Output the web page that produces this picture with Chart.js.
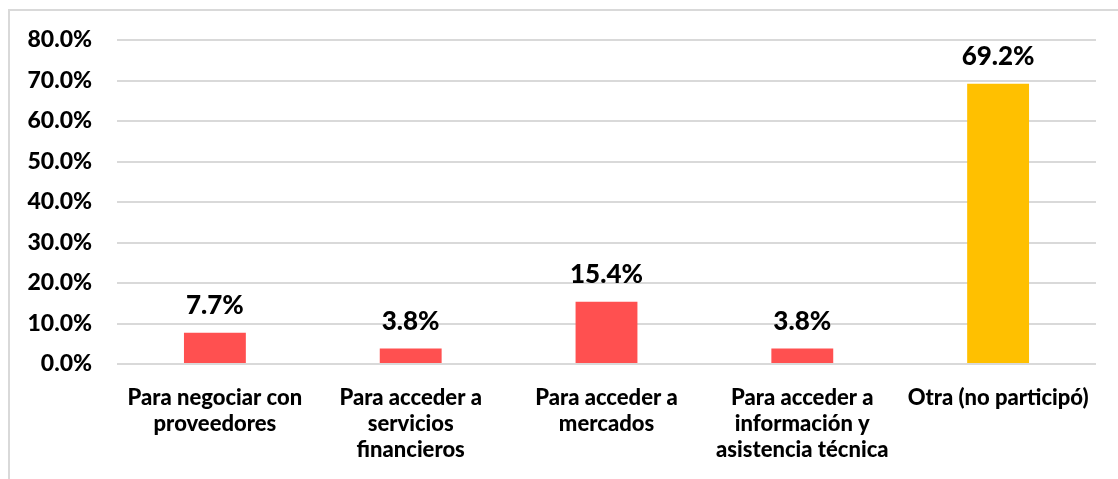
<!DOCTYPE html>
<html>
<head>
<meta charset="utf-8">
<script src="https://cdn.jsdelivr.net/npm/chart.js@4"></script>
<style>
  html, body { margin:0; padding:0; background:#fff; overflow:hidden; }
  #wrap { position:absolute; left:0; top:0; width:1118px; height:479px; }
  #frame { position:absolute; left:8px; top:9px; width:1200px; height:600px; border-left:2px solid #D9D9D9; border-top:2px solid #D9D9D9; }
  canvas { position:absolute; left:0; top:0; }
</style>
</head>
<body>
<div id="wrap">
  <div id="frame"></div>
  <canvas id="c" width="1118" height="479"></canvas>
</div>
<script>
const categories = [
  ["Para negociar con", "proveedores"],
  ["Para acceder a", "servicios", "financieros"],
  ["Para acceder a", "mercados"],
  ["Para acceder a", "información y", "asistencia técnica"],
  ["Otra (no participó)"]
];
const values = [7.7, 3.8, 15.4, 3.8, 69.2];
const barColors = ["#FF5050", "#FF5050", "#FF5050", "#FF5050", "#FFC000"];
const yTicks = [0, 10, 20, 30, 40, 50, 60, 70, 80];

const FONT = "Lato, 'Open Sans', sans-serif";

const valueLabels = {
  id: 'valueLabels',
  afterDatasetsDraw(chart) {
    const ctx = chart.ctx;
    const meta = chart.getDatasetMeta(0);
    ctx.save();
    ctx.font = "900 26px " + FONT;
    ctx.fillStyle = "#000";
    ctx.textAlign = "center";
    ctx.textBaseline = "alphabetic";
    meta.data.forEach((bar, i) => {
      ctx.fillText(values[i].toFixed(1) + "%", bar.x, bar.y - 19);
    });
    ctx.restore();
  }
};

new Chart(document.getElementById('c'), {
  type: 'bar',
  data: {
    labels: categories,
    datasets: [{
      data: values,
      backgroundColor: barColors,
      borderWidth: 0,
      barPercentage: 0.316,
      categoryPercentage: 1.0
    }]
  },
  options: {
    responsive: false,
    animation: false,
    devicePixelRatio: 1,
    layout: { padding: { left: 0, top: 40, right: 22, bottom: 0 } },
    plugins: { legend: { display: false }, tooltip: { enabled: false } },
    scales: {
      x: {
        grid: { display: false, drawTicks: false },
        border: { display: false },
        ticks: {
          color: "#000",
          font: { family: FONT, size: 22, weight: 900, lineHeight: 1.18 },
          padding: 21,
          maxRotation: 0,
          autoSkip: false
        },
        afterFit(scale) { scale.height = 115; }
      },
      y: {
        min: 0, max: 80,
        afterBuildTicks(scale) { scale.ticks = yTicks.map(v => ({ value: v })); },
        grid: { color: "#D9D9D9", lineWidth: 2, drawTicks: false },
        border: { display: false },
        ticks: {
          color: "#000",
          font: { family: FONT, size: 23, weight: 900 },
          padding: 25,
          callback: v => v.toFixed(1) + "%"
        },
        afterFit(scale) { scale.width = 117; }
      }
    }
  },
  plugins: [valueLabels]
});
</script>
</body>
</html>
